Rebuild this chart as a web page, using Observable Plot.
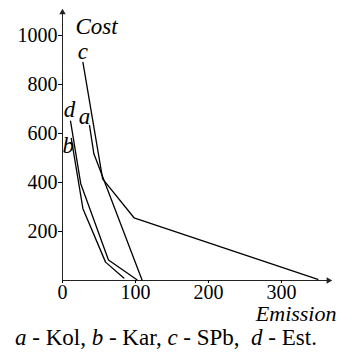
<!DOCTYPE html>
<html><head><meta charset="utf-8">
<script src="https://cdn.jsdelivr.net/npm/d3@7"></script>
<script src="https://cdn.jsdelivr.net/npm/@observablehq/plot@0.6"></script>
<style>
body{margin:0;background:#fff;}
#wrap{position:relative;width:352px;height:352px;overflow:hidden;}
#legend{position:absolute;left:15px;top:326px;font-size:23px;font-family:'Liberation Serif','Times New Roman',Times,'DejaVu Serif',serif;line-height:1;white-space:nowrap;color:#000;}
#legend i{font-style:italic;}
</style></head><body>
<div id="wrap"><div id="chart"></div><div id="legend"></div></div>
<script>
// series letters and region names
const seriesNames = ["a", "b", "c", "d"];
const regionNames = ["Kol", "Kar", "SPb", "Est"];
// series values: emission (x) and cost (y)
const emissionA = [37, 43, 109];
const costA     = [633, 517, 2];
const emissionB = [12, 28, 59, 84];
const costB     = [580, 293, 75, 10];
const emissionC = [28, 55, 98, 350];
const costC     = [890, 415, 256, 5];
const emissionD = [11, 25, 63, 102];
const costD     = [650, 395, 84, 3];
// tick labels
const xTicks = [0, 100, 200, 300];
const yTicks = [200, 400, 600, 800, 1000];
const xLabel = "Emission";
const yLabel = "Cost";
const xMax = 370, yMax = 1110;

const seriesData = {a: [emissionA, costA], b: [emissionB, costB], c: [emissionC, costC], d: [emissionD, costD]};
const rows = [];
for (const s of seriesNames) {
  const [ex, cy] = seriesData[s];
  ex.forEach((e, i) => rows.push({series: s, emission: e, cost: cy[i]}));
}
const labelOffsets = {a: [-5, -1], b: [-3, 15], c: [0, -3], d: [-1, -4]};

const serif = "'Liberation Serif', 'Times New Roman', Times, 'DejaVu Serif', serif";
const labelMarks = seriesNames.map(s => Plot.text([rows.find(r => r.series === s)], {
  x: "emission", y: "cost", text: d => d.series,
  dx: labelOffsets[s][0], dy: labelOffsets[s][1],
  lineAnchor: "bottom", textAnchor: "middle",
  fontStyle: "italic", fontSize: 23, fill: "black", fontFamily: serif
}));

const chart = Plot.plot({
  width: 352, height: 322,
  marginLeft: 62, marginRight: 20, marginTop: 8, marginBottom: 42,
  style: {fontFamily: serif, fontSize: "20px", color: "#000", background: "#fff", overflow: "visible"},
  x: {domain: [0, xMax], label: null},
  y: {domain: [0, yMax], label: null},
  marks: [
    Plot.ruleY([0], {x1: 0, x2: xMax - 6, stroke: "#222", strokeWidth: 1}),
    Plot.ruleX([0], {y1: 0, y2: yMax - 20, stroke: "#222", strokeWidth: 1}),
    Plot.dot([{x: xMax - 5.5, y: 0}], {x: "x", y: "y", symbol: "triangle", r: 2.4, fill: "#222", stroke: null, rotate: 90}),
    Plot.dot([{x: 0, y: yMax - 16}], {x: "x", y: "y", symbol: "triangle", r: 2.4, fill: "#222", stroke: null}),
    Plot.axisX(xTicks, {tickSize: 3, tickPadding: 1, fontSize: 20, fontFamily: serif, label: null, tickFormat: d => String(d)}),
    Plot.axisY(yTicks, {tickSize: 4, tickPadding: 1, fontSize: 20, fontFamily: serif, label: null, tickFormat: d => String(d)}),
    Plot.line(rows, {x: "emission", y: "cost", z: "series", stroke: "black", strokeWidth: 1.3}),
    ...labelMarks,
    Plot.text([yLabel], {frameAnchor: "top-left", text: d => d, dx: 13, dy: 25, textAnchor: "start", lineAnchor: "bottom", fontStyle: "italic", fontSize: 23, fontFamily: serif, fill: "black"}),
    Plot.text([xLabel], {frameAnchor: "bottom-right", text: d => d, dx: 4, dy: 40, textAnchor: "end", lineAnchor: "bottom", fontStyle: "italic", fontSize: 22, fontFamily: serif, fill: "black"})
  ]
});
document.getElementById("chart").appendChild(chart);

const legend = document.getElementById("legend");
legend.innerHTML = seriesNames.map((s, i) => `<i>${s}</i> - ${regionNames[i]}`).join(",&nbsp;") + ".";
legend.innerHTML = legend.innerHTML.replace(/,&nbsp;<i>d/, ",&nbsp;&nbsp;<i>d");
</script>
</body></html>
